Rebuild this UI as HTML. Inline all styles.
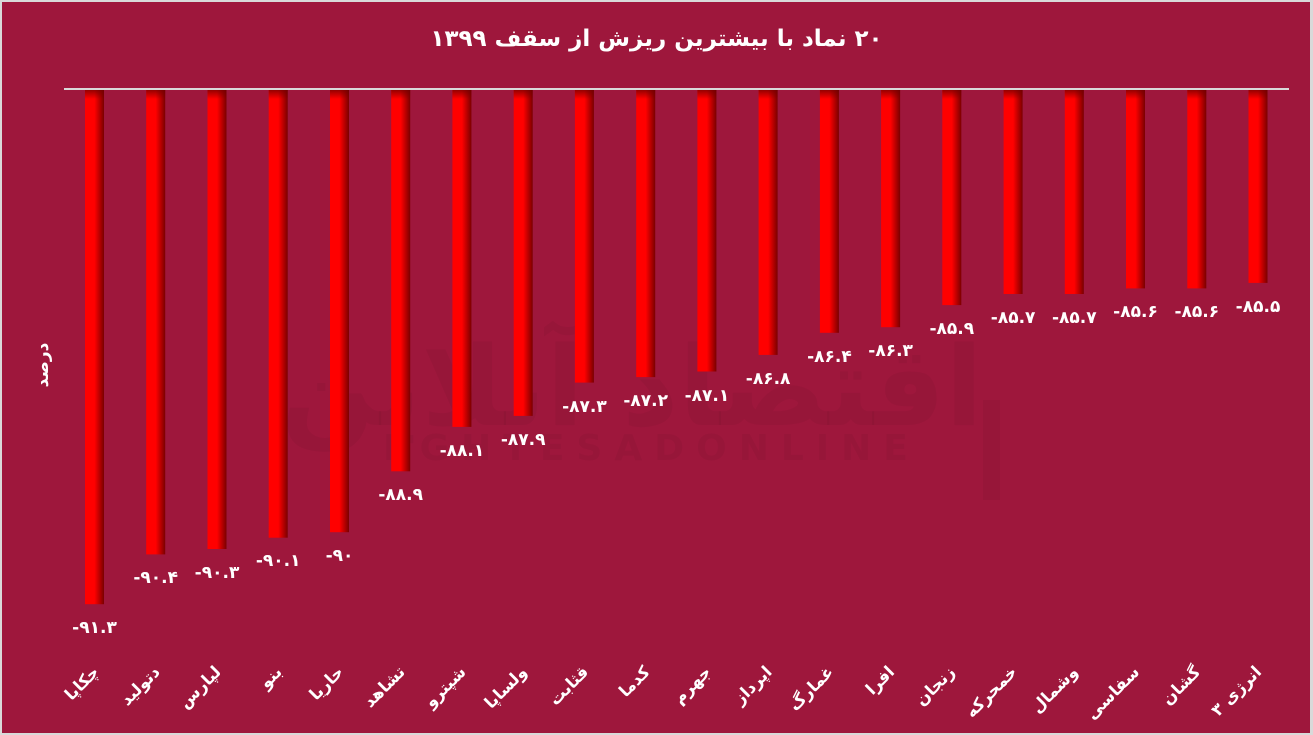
<!DOCTYPE html>
<html>
<head>
<meta charset="utf-8">
<style>
html,body{margin:0;padding:0;background:#d9d9d9;}
body{width:1313px;height:735px;overflow:hidden;position:relative;}
svg{display:block;position:absolute;left:0;top:0;}
text{font-family:"DejaVu Sans","Liberation Sans",sans-serif;}
.title{position:absolute;left:0;top:24px;width:1313px;text-align:center;direction:rtl;color:#fff;font-family:"DejaVu Sans","Liberation Sans",sans-serif;font-weight:bold;font-size:23px;line-height:30px;}
</style>
</head>
<body>
<svg width="1313" height="735" viewBox="0 0 1313 735" xmlns="http://www.w3.org/2000/svg">
<defs>
<linearGradient id="bg" x1="0" y1="0" x2="1" y2="0">
<stop offset="0" stop-color="#ff0000"/>
<stop offset="0.5" stop-color="#ff0000"/>
<stop offset="1" stop-color="#7a0000"/>
</linearGradient>
<linearGradient id="tg" x1="0" y1="0" x2="0" y2="1">
<stop offset="0" stop-color="#700000" stop-opacity="0.75"/>
<stop offset="1" stop-color="#700000" stop-opacity="0"/>
</linearGradient>
</defs>
<rect x="0" y="0" width="1313" height="735" fill="#d9d9d9"/>
<rect x="2" y="2" width="1308" height="731" fill="#9e173c"/>

<!-- watermark -->
<g fill="#000" fill-opacity="0.045">
<text x="632" y="425" font-size="110" font-weight="bold" text-anchor="middle" direction="rtl">اقتصاد آنلاین</text>
<text x="383" y="460" font-size="36" font-weight="bold" letter-spacing="12">EGHTESADONLINE</text>
<rect x="983" y="400" width="17" height="100"/>
</g>

<!-- y label -->
<text x="0" y="0" font-size="17" font-weight="bold" fill="#ffffff" text-anchor="middle" dominant-baseline="central" transform="translate(43,365) rotate(-90)">درصد</text>

<!-- baseline -->
<rect x="64" y="88" width="1225" height="2" fill="#d9d9d9"/>

<!-- bars -->
<g>
<rect x="85" y="90" width="19" height="514.2" fill="url(#bg)"/>
<rect x="146.2" y="90" width="19" height="464.4" fill="url(#bg)"/>
<rect x="207.5" y="90" width="19" height="459" fill="url(#bg)"/>
<rect x="268.7" y="90" width="19" height="447.7" fill="url(#bg)"/>
<rect x="330" y="90" width="19" height="442.2" fill="url(#bg)"/>
<rect x="391.2" y="90" width="19" height="381.3" fill="url(#bg)"/>
<rect x="452.4" y="90" width="19" height="336.9" fill="url(#bg)"/>
<rect x="513.7" y="90" width="19" height="325.9" fill="url(#bg)"/>
<rect x="574.9" y="90" width="19" height="292.6" fill="url(#bg)"/>
<rect x="636.2" y="90" width="19" height="287.1" fill="url(#bg)"/>
<rect x="697.4" y="90" width="19" height="281.5" fill="url(#bg)"/>
<rect x="758.6" y="90" width="19" height="264.9" fill="url(#bg)"/>
<rect x="819.9" y="90" width="19" height="242.8" fill="url(#bg)"/>
<rect x="881.1" y="90" width="19" height="237.2" fill="url(#bg)"/>
<rect x="942.3" y="90" width="19" height="215.1" fill="url(#bg)"/>
<rect x="1003.6" y="90" width="19" height="204" fill="url(#bg)"/>
<rect x="1064.8" y="90" width="19" height="204" fill="url(#bg)"/>
<rect x="1126" y="90" width="19" height="198.4" fill="url(#bg)"/>
<rect x="1187.3" y="90" width="19" height="198.4" fill="url(#bg)"/>
<rect x="1248.5" y="90" width="19" height="192.9" fill="url(#bg)"/>
</g>
<g fill="url(#tg)">
<rect x="85" y="90" width="19" height="9"/>
<rect x="146.2" y="90" width="19" height="9"/>
<rect x="207.5" y="90" width="19" height="9"/>
<rect x="268.7" y="90" width="19" height="9"/>
<rect x="330" y="90" width="19" height="9"/>
<rect x="391.2" y="90" width="19" height="9"/>
<rect x="452.4" y="90" width="19" height="9"/>
<rect x="513.7" y="90" width="19" height="9"/>
<rect x="574.9" y="90" width="19" height="9"/>
<rect x="636.2" y="90" width="19" height="9"/>
<rect x="697.4" y="90" width="19" height="9"/>
<rect x="758.6" y="90" width="19" height="9"/>
<rect x="819.9" y="90" width="19" height="9"/>
<rect x="881.1" y="90" width="19" height="9"/>
<rect x="942.3" y="90" width="19" height="9"/>
<rect x="1003.6" y="90" width="19" height="9"/>
<rect x="1064.8" y="90" width="19" height="9"/>
<rect x="1126" y="90" width="19" height="9"/>
<rect x="1187.3" y="90" width="19" height="9"/>
<rect x="1248.5" y="90" width="19" height="9"/>
</g>

<!-- value labels -->
<g font-size="17" font-weight="bold" fill="#ffffff" text-anchor="middle" dominant-baseline="central" direction="ltr">
<text x="94.5" y="628">-۹۱.۳</text>
<text x="155.7" y="578">-۹۰.۴</text>
<text x="217" y="573">-۹۰.۳</text>
<text x="278.2" y="561">-۹۰.۱</text>
<text x="339.5" y="556">-۹۰</text>
<text x="400.7" y="495">-۸۸.۹</text>
<text x="461.9" y="451">-۸۸.۱</text>
<text x="523.2" y="440">-۸۷.۹</text>
<text x="584.4" y="407">-۸۷.۳</text>
<text x="645.7" y="401">-۸۷.۲</text>
<text x="706.9" y="396">-۸۷.۱</text>
<text x="768.1" y="379">-۸۶.۸</text>
<text x="829.4" y="357">-۸۶.۴</text>
<text x="890.6" y="351">-۸۶.۳</text>
<text x="951.8" y="329">-۸۵.۹</text>
<text x="1013.1" y="318">-۸۵.۷</text>
<text x="1074.3" y="318">-۸۵.۷</text>
<text x="1135.5" y="312">-۸۵.۶</text>
<text x="1196.8" y="312">-۸۵.۶</text>
<text x="1258" y="307">-۸۵.۵</text>
</g>

<!-- category labels -->
<g font-size="16.5" font-weight="bold" fill="#ffffff" text-anchor="end" dominant-baseline="central">
<text transform="translate(96,669) rotate(-45)">چکاپا</text>
<text transform="translate(157,669) rotate(-45)">دتولید</text>
<text transform="translate(218,669) rotate(-45)">لپارس</text>
<text transform="translate(279,669) rotate(-45)">بنو</text>
<text transform="translate(340.5,669) rotate(-45)">حاریا</text>
<text transform="translate(402,669) rotate(-45)">تشاهد</text>
<text transform="translate(463,669) rotate(-45)">شپترو</text>
<text transform="translate(524,669) rotate(-45)">ولساپا</text>
<text transform="translate(585.5,669) rotate(-45)">قثابت</text>
<text transform="translate(647,669) rotate(-45)">کدما</text>
<text transform="translate(708,669) rotate(-45)">جهرم</text>
<text transform="translate(769,669) rotate(-45)">اپرداز</text>
<text transform="translate(830.5,669) rotate(-45)">غمارگ</text>
<text transform="translate(891.5,669) rotate(-45)">افرا</text>
<text transform="translate(952,669) rotate(-45)">زنجان</text>
<text transform="translate(1014,669) rotate(-45)">خمحرکه</text>
<text transform="translate(1075,669) rotate(-45)">وشمال</text>
<text transform="translate(1136.5,669) rotate(-45)">سفاسی</text>
<text transform="translate(1197.5,669) rotate(-45)">گشان</text>
<text transform="translate(1258.5,669) rotate(-45)">انرژی ۳</text>
</g>
</svg>
<div class="title">۲۰ نماد با بیشترین ریزش از سقف ۱۳۹۹</div>
</body>
</html>
